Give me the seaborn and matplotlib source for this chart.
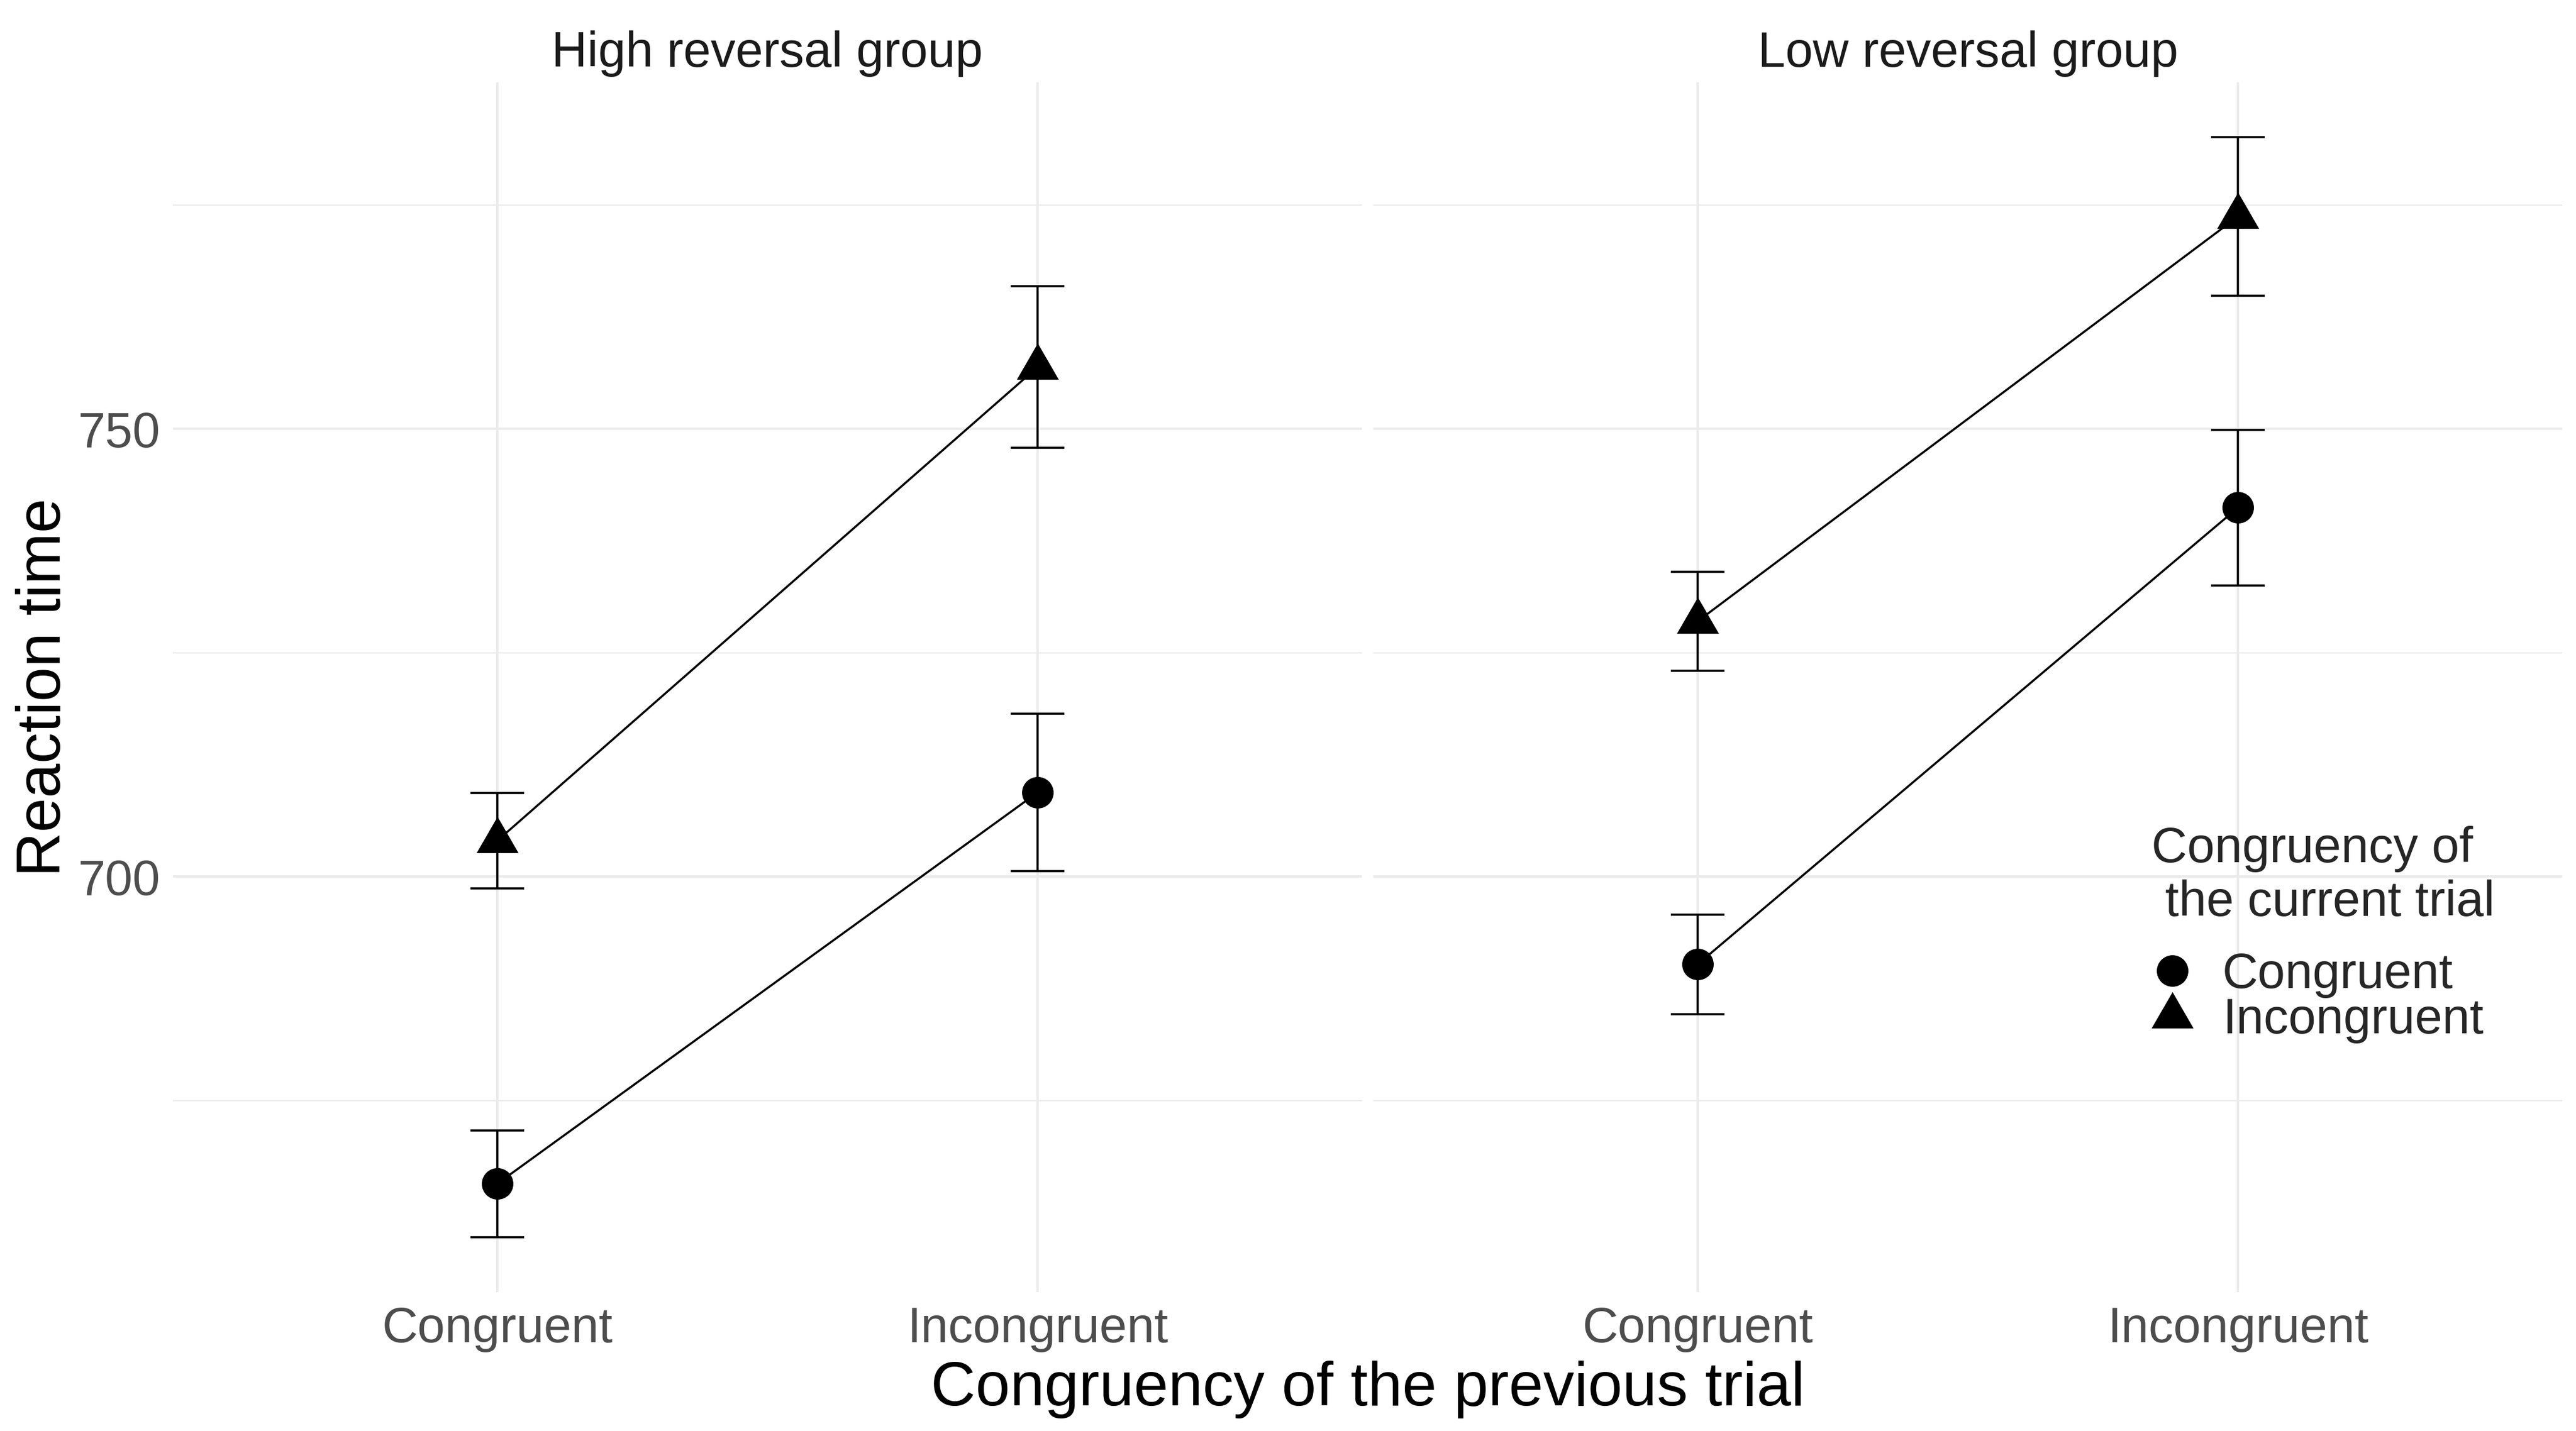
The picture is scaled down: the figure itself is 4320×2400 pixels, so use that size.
import numpy as np
import pandas as pd
import seaborn as sns
import matplotlib.pyplot as plt
from matplotlib.path import Path
from matplotlib.lines import Line2D
from matplotlib.ticker import MultipleLocator

# facets, x levels (previous trial) and series (current trial)
groups = ["High reversal group", "Low reversal group"]
prev_levels = ["Congruent", "Incongruent"]
cur_levels = ["Congruent", "Incongruent"]

# mean reaction time per previous-trial level, one list per group x current trial
high_congruent = [665.7, 709.4]
high_incongruent = [704.0, 756.9]
low_congruent = [690.2, 741.2]
low_incongruent = [728.5, 773.7]

# standard errors, same layout
high_congruent_se = [5.95, 8.8]
high_incongruent_se = [5.3, 9.0]
low_congruent_se = [5.55, 8.7]
low_incongruent_se = [5.5, 8.85]

means = {
    (groups[0], cur_levels[0]): high_congruent,
    (groups[0], cur_levels[1]): high_incongruent,
    (groups[1], cur_levels[0]): low_congruent,
    (groups[1], cur_levels[1]): low_incongruent,
}
ses = {
    (groups[0], cur_levels[0]): high_congruent_se,
    (groups[0], cur_levels[1]): high_incongruent_se,
    (groups[1], cur_levels[0]): low_congruent_se,
    (groups[1], cur_levels[1]): low_incongruent_se,
}

rows = []
for (g, c), vals in means.items():
    for p, v, s in zip(prev_levels, vals, ses[(g, c)]):
        rows.append({"group": g, "cur": c, "prev": p, "rt": v, "se": s})
df = pd.DataFrame(rows)

sns.set_theme(style="white")
plt.rcParams["font.family"] = ["Liberation Sans", "DejaVu Sans"]

W, H = 4320, 2400
fig = plt.figure(figsize=(W / 300, H / 300), dpi=300)
panel_top, panel_bottom = 138, 2167
panel_lefts = [290, 2303]
panel_w = 1994
axes = [fig.add_axes([l / W, 1 - panel_bottom / H, panel_w / W,
                      (panel_bottom - panel_top) / H]) for l in panel_lefts]

tri = Path([(0, 1), (-0.866, -0.5), (0.866, -0.5), (0, 1)],
           [Path.MOVETO, Path.LINETO, Path.LINETO, Path.CLOSEPOLY])
markers = {"Congruent": "o", "Incongruent": tri}
msizes = {"Congruent": 12.7, "Incongruent": 19.5}
lw = 0.85
fs_small = 19.9
fs_big = 24.9

lo = (df.rt - df.se).min()
hi = (df.rt + df.se).max()
pad = 0.05 * (hi - lo)

grid_col = "#EBEBEB"
for ax, g in zip(axes, groups):
    sub = df[df.group == g]
    for c in cur_levels:
        d = sub[sub.cur == c]
        ax.errorbar(x=np.arange(len(prev_levels)), y=d.rt.values, yerr=d.se.values,
                    fmt="none", ecolor="black", elinewidth=lw, capsize=10.9,
                    capthick=lw, zorder=2)
        sns.pointplot(data=d, x="prev", y="rt", order=prev_levels, color="black",
                      errorbar=None, marker=markers[c], markersize=msizes[c],
                      markeredgewidth=0, linewidth=lw, ax=ax, zorder=3)
    ax.set_xlim(-0.6, len(prev_levels) - 0.4)
    ax.set_ylim(lo - pad, hi + pad)
    ax.set_xlabel("")
    ax.set_ylabel("")
    ax.yaxis.set_major_locator(MultipleLocator(50))
    ax.yaxis.set_minor_locator(MultipleLocator(25))
    ax.set_axisbelow(True)
    ax.grid(True, which="major", axis="both", color=grid_col, linewidth=0.96)
    ax.grid(True, which="minor", axis="y", color=grid_col, linewidth=0.53)
    for sp in ax.spines.values():
        sp.set_visible(False)
    ax.tick_params(axis="both", which="both", length=0, labelsize=fs_small,
                   labelcolor="#4D4D4D")
    ax.tick_params(axis="x", pad=5.5)
    ax.tick_params(axis="y", pad=5.0)
    ax.set_title(g, fontsize=fs_small, color="#1A1A1A", pad=6.3)
    ax.set_facecolor("white")

axes[1].tick_params(axis="y", labelleft=False)

fig.text(2293.5 / W, 1 - 2357 / H, "Congruency of the previous trial",
         ha="center", va="baseline", fontsize=fs_big, color="black")
fig.text(26 / W, 1 - 1152.5 / H, "Reaction time", rotation=90,
         ha="left", va="center", fontsize=fs_big, color="black")

handles = [Line2D([], [], linestyle="none", marker=markers[c], color="black",
                  markersize=msizes[c], markeredgewidth=0) for c in cur_levels]
leg = axes[1].legend(handles, cur_levels, title="Congruency of\n the current trial",
                     loc="upper left", bbox_to_anchor=(3608 / W, 1 - 1385 / H),
                     bbox_transform=fig.transFigure, frameon=False, borderpad=0,
                     borderaxespad=0, handlelength=0.845, handletextpad=0.59,
                     labelspacing=-0.02, alignment="left", fontsize=fs_small,
                     title_fontsize=fs_small)
leg.get_title().set_linespacing(1.2)
leg._legend_box.sep = 10.3

fig.savefig("out.png", dpi=300, facecolor="white")
